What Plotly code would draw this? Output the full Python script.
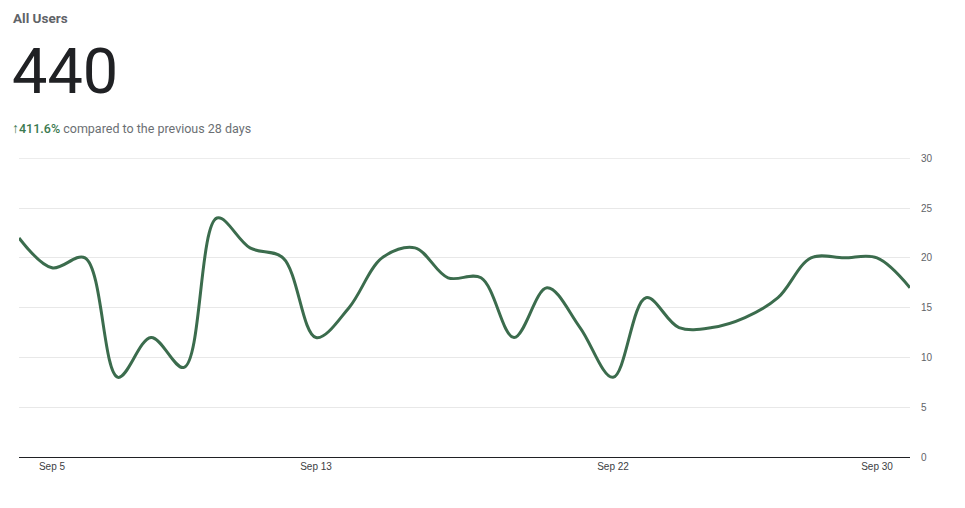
import plotly.graph_objects as go
import pandas as pd

dates = pd.date_range("2024-09-04", "2024-10-01", freq="D")
users = [22, 19, 20, 8, 12, 9, 24, 21, 20, 12, 15, 20, 21, 18,
         18, 12, 17, 13, 8, 16, 13, 13, 14, 16, 20, 20, 20, 17]
tick_dates = ["2024-09-05", "2024-09-13", "2024-09-22", "2024-09-30"]
tick_labels = ["Sep 5", "Sep 13", "Sep 22", "Sep 30"]
y_ticks = [0, 5, 10, 15, 20, 25, 30]

title_text = "All Users"
total_text = "440"
change_arrow = "↑"
change_text = "411.6%"
compare_text = "compared to the previous 28 days"

LINE = "#3b6c4d"
GRID = "#e8e8e8"
FONT = "Roboto, 'Noto Sans', Arial, sans-serif"
TICKFONT = "'Liberation Sans', Arial, sans-serif"

fig = go.Figure()
fig.add_trace(go.Scatter(
    x=dates, y=users, mode="lines",
    line=dict(color=LINE, width=3, shape="spline", smoothing=1),
    hoverinfo="x+y", showlegend=False,
))

OFF = 8  # page body margin
W, H = 965 - OFF, 508 - OFF
L, R, T, B = 19 - OFF, 55, 158 - OFF, 51
pw, ph = W - L - R, H - T - B

def px(x):
    return (x - OFF - L) / pw

def py(y):
    return (H - B - (y - OFF)) / ph

fig.update_layout(
    width=W, height=H,
    margin=dict(l=L, r=R, t=T, b=B),
    paper_bgcolor="white", plot_bgcolor="white",
    font=dict(family=FONT, color="#5f6368"),
    xaxis=dict(
        range=[dates[0], dates[-1]],
        tickvals=pd.to_datetime(tick_dates), ticktext=tick_labels,
        showgrid=False, showline=True, linecolor="#202124", linewidth=1,
        ticks="", tickfont=dict(size=10, color="#3c4043", family=TICKFONT),
        zeroline=False, fixedrange=True,
    ),
    yaxis=dict(
        range=[0, 30.03], side="right", tickvals=y_ticks,
        showgrid=True, gridcolor=GRID, gridwidth=1,
        showline=False, zeroline=False, ticks="",
        ticklabelstandoff=10,
        tickfont=dict(size=10, color="#5f6368", family=TICKFONT), fixedrange=True,
    ),
    shapes=[
        dict(type="line", xref="paper", yref="y", x0=0, x1=1,
             y0=y_ticks[-1], y1=y_ticks[-1], line=dict(color=GRID, width=1),
             layer="below"),
    ],
    annotations=[
        dict(text=f"<b>{title_text}</b>", xref="paper", yref="paper",
             x=px(11), y=py(18), xanchor="left", yanchor="middle",
             showarrow=False, font=dict(size=13.5, color="#5f6368", family=FONT)),
        dict(text=total_text, xref="paper", yref="paper",
             x=px(10), y=py(72), xanchor="left", yanchor="middle",
             showarrow=False, font=dict(size=63, color="#202124", family=FONT)),
        dict(text=(f"<span style='color:#3b7a4f;font-size:14px'>{change_arrow}</span>"
                   f"<span style='color:#3b7a4f;font-weight:500'>{change_text}</span> {compare_text}"),
             xref="paper", yref="paper",
             x=px(10), y=py(128), xanchor="left", yanchor="middle",
             showarrow=False, font=dict(size=12.5, color="#6b6f73", family=FONT)),
    ],
)

fig.write_html("out.html")
